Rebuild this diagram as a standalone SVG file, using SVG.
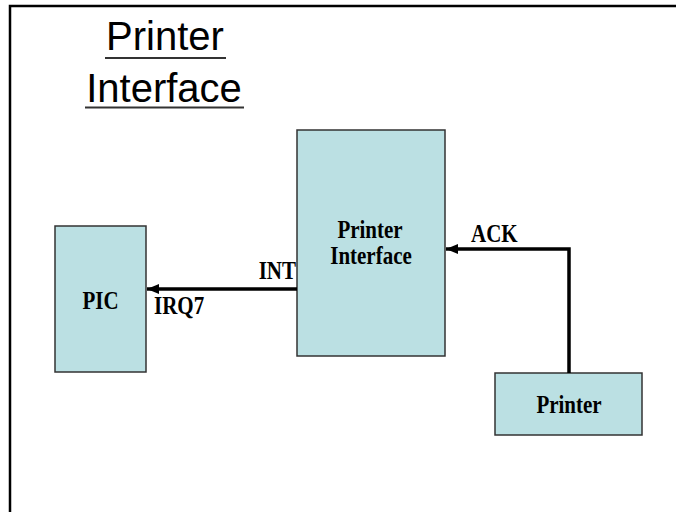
<svg xmlns="http://www.w3.org/2000/svg" width="676" height="512" viewBox="0 0 676 512">
  <style>
    .box { fill: #BBE0E3; stroke: #333333; stroke-width: 1.5; }
    .lbl { font-family: "Liberation Serif", "Times New Roman", serif; font-weight: bold; font-size: 21px; fill: #000; }
    .title { font-family: "Liberation Sans", Arial, sans-serif; font-size: 40px; fill: #000; text-anchor: middle; }
    .wire { fill: none; stroke: #000; stroke-width: 3.5; }
  </style>
  <defs>
    <marker id="arrow" viewBox="0 0 12 10" refX="12" refY="5" markerWidth="12" markerHeight="10" markerUnits="userSpaceOnUse" orient="auto">
      <path d="M0,0 L12,5 L0,10 Z" fill="#000"/>
    </marker>
  </defs>
  <rect x="0" y="0" width="676" height="512" fill="#fff"/>
  <path d="M10,520 L10,6 L680,6" fill="none" stroke="#000" stroke-width="2.5"/>

  <g id="title">
    <text class="title" x="165" y="50">Printer</text>
    <line x1="105" y1="58" x2="226" y2="58" stroke="#333" stroke-width="2"/>
    <text class="title" x="164" y="102">Interface</text>
    <line x1="85" y1="107.5" x2="244" y2="107.5" stroke="#333" stroke-width="2"/>
  </g>

  <g id="pic">
    <rect class="box" x="55" y="226" width="91" height="146"/>
    <text class="lbl" transform="translate(100.5,309) scale(1,1.15)" text-anchor="middle">PIC</text>
  </g>

  <g id="printer-interface">
    <rect class="box" x="297" y="130" width="148" height="226"/>
    <text class="lbl" transform="translate(370,238) scale(1,1.15)" text-anchor="middle">Printer</text>
    <text class="lbl" transform="translate(371,264) scale(1,1.15)" text-anchor="middle">Interface</text>
  </g>

  <g id="printer">
    <rect class="box" x="495" y="373" width="147" height="62"/>
    <text class="lbl" transform="translate(569,413) scale(1,1.15)" text-anchor="middle">Printer</text>
  </g>

  <g id="connectors">
    <path class="wire" d="M297,289 L147,289" marker-end="url(#arrow)"/>
    <path class="wire" d="M569,373 L569,249 L446,249" marker-end="url(#arrow)"/>
    <text class="lbl" transform="translate(296,279) scale(1,1.15)" text-anchor="end">INT</text>
    <text class="lbl" transform="translate(154,314) scale(1,1.15)">IRQ7</text>
    <text class="lbl" transform="translate(471,242) scale(1,1.15)">ACK</text>
  </g>
</svg>
